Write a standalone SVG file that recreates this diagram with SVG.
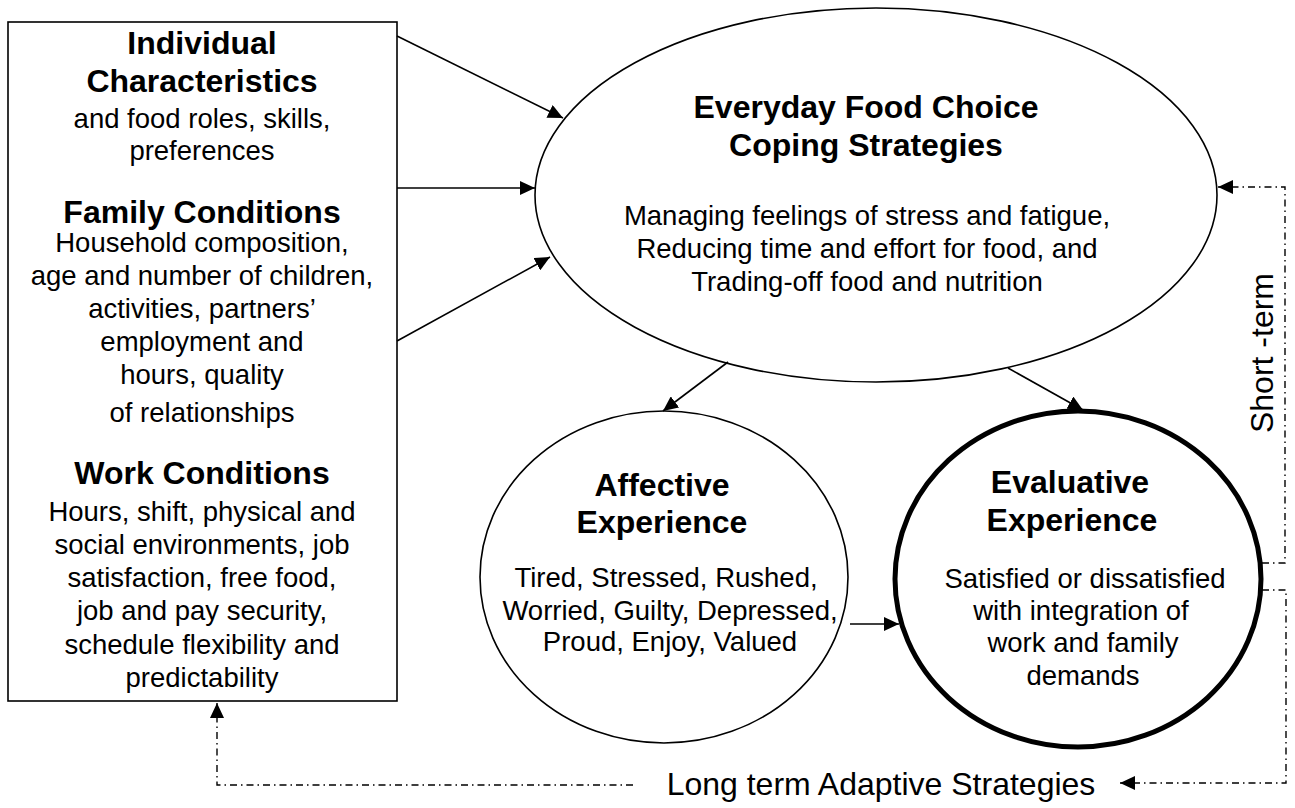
<svg xmlns="http://www.w3.org/2000/svg" width="1295" height="808" viewBox="0 0 1295 808">
<style>
text{font-family:"Liberation Sans",Arial,sans-serif;fill:#000;text-anchor:middle}
.t{font-size:32px;font-weight:bold}
.b{font-size:27.5px}
.l{font-size:32px}
.shape{fill:#fff;stroke:#000;stroke-width:1.6}
.conn{fill:none;stroke:#000;stroke-width:1.6}
.dd{fill:none;stroke:#000;stroke-width:1.4;stroke-dasharray:7 4 1.5 4}
</style>
<defs>
<marker id="ah" markerUnits="userSpaceOnUse" markerWidth="16" markerHeight="14" refX="15" refY="7" orient="auto">
<path d="M0,0 L15,7 L0,14 Z" fill="#000"/>
</marker>
</defs>
<rect width="1295" height="808" fill="#fff"/>
<g id="factors">
<rect class="shape" x="8" y="22" width="389" height="679"/>
<text class="t" x="202" y="54">Individual</text>
<text class="t" x="202" y="92">Characteristics</text>
<text class="b" x="202" y="128">and food roles, skills,</text>
<text class="b" x="202" y="160">preferences</text>
<text class="t" x="202" y="223">Family Conditions</text>
<text class="b" x="202" y="252">Household composition,</text>
<text class="b" x="202" y="285">age and number of children,</text>
<text class="b" x="202" y="318">activities, partners’</text>
<text class="b" x="202" y="351">employment and</text>
<text class="b" x="202" y="384">hours, quality</text>
<text class="b" x="202" y="422">of relationships</text>
<text class="t" x="202" y="484">Work Conditions</text>
<text class="b" x="202" y="521">Hours, shift, physical and</text>
<text class="b" x="202" y="554">social environments, job</text>
<text class="b" x="202" y="587">satisfaction, free food,</text>
<text class="b" x="202" y="620">job and pay security,</text>
<text class="b" x="202" y="654">schedule flexibility and</text>
<text class="b" x="202" y="687">predictability</text>
</g>
<g id="coping">
<ellipse class="shape" cx="876" cy="195" rx="341" ry="187"/>
<text class="t" x="866" y="118">Everyday Food Choice</text>
<text class="t" x="866" y="156">Coping Strategies</text>
<text class="b" x="867" y="225">Managing feelings of stress and fatigue,</text>
<text class="b" x="867" y="258">Reducing time and effort for food, and</text>
<text class="b" x="867" y="291">Trading-off food and nutrition</text>
</g>
<g id="affective">
<ellipse class="shape" cx="664" cy="577" rx="184" ry="166"/>
<text class="t" x="662" y="496">Affective</text>
<text class="t" x="662" y="533">Experience</text>
<text class="b" x="666" y="587">Tired, Stressed, Rushed,</text>
<text class="b" x="670" y="620">Worried, Guilty, Depressed,</text>
<text class="b" x="670" y="651">Proud, Enjoy, Valued</text>
</g>
<g id="evaluative">
<ellipse cx="1078" cy="579" rx="183" ry="168" fill="#fff" stroke="#000" stroke-width="5"/>
<text class="t" x="1070" y="493">Evaluative</text>
<text class="t" x="1072" y="531">Experience</text>
<text class="b" x="1085" y="588">Satisfied or dissatisfied</text>
<text class="b" x="1081" y="620">with integration of</text>
<text class="b" x="1083" y="652">work and family</text>
<text class="b" x="1083" y="685">demands</text>
</g>
<g id="labels">
<text class="l" transform="translate(1273,353) rotate(-90)">Short -term</text>
<text class="l" x="881" y="795">Long term Adaptive Strategies</text>
</g>
<g id="connectors">
<line class="conn" x1="397" y1="36" x2="563" y2="118" marker-end="url(#ah)"/>
<line class="conn" x1="397" y1="188" x2="535" y2="188" marker-end="url(#ah)"/>
<line class="conn" x1="397" y1="341" x2="550" y2="257" marker-end="url(#ah)"/>
<line class="conn" x1="728" y1="362" x2="663" y2="411" marker-end="url(#ah)"/>
<line class="conn" x1="1008" y1="368" x2="1083" y2="410" marker-end="url(#ah)"/>
<line class="conn" x1="850" y1="624" x2="899" y2="624" marker-end="url(#ah)"/>
<path class="dd" d="M1262,563 H1285 V187 H1218" marker-end="url(#ah)"/>
<path class="dd" d="M1262,590 H1286 V783 H1120" marker-end="url(#ah)"/>
<path class="dd" d="M633,785 H217 V703" marker-end="url(#ah)"/>
</g>
</svg>
